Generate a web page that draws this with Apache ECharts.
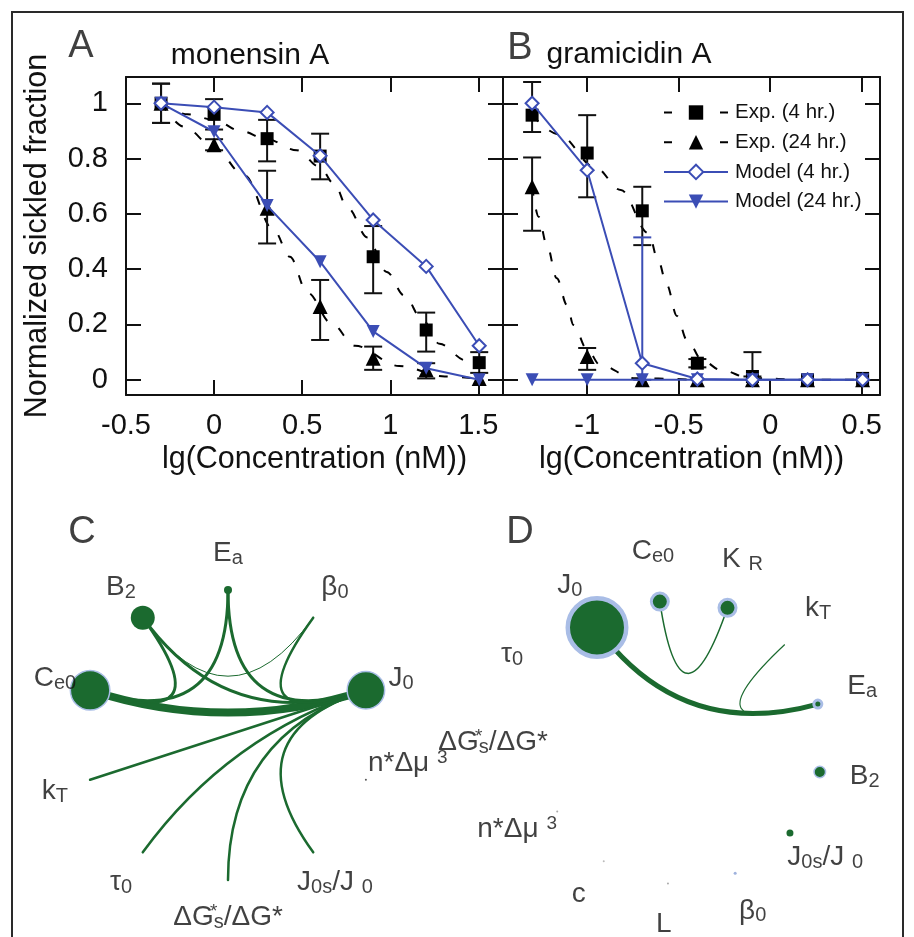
<!DOCTYPE html>
<html><head><meta charset="utf-8">
<script src="https://cdn.jsdelivr.net/npm/echarts@6/dist/echarts.min.js"></script>
<style>html,body{margin:0;padding:0;background:#fff}#c{width:914px;height:937px}</style>
</head><body><div id="c"></div>
<script>
// ================= DATA =================
// Panel A: monensin A  (x = lg concentration in nM)
const lgConcA   = [-0.301, 0, 0.301, 0.602, 0.903, 1.204, 1.505];
const exp4A     = [1.0, 0.96, 0.872, 0.809, 0.445, 0.18, 0.062];
const exp4A_lo  = [0.929, 0.905, 0.79, 0.725, 0.313, 0.102, 0.025];
const exp4A_hi  = [1.071, 1.015, 0.94, 0.89, 0.556, 0.243, 0.1];
const exp24A    = [1.0, 0.85, 0.62, 0.265, 0.078, 0.036, 0.005];
const exp24A_lo = [0.929, 0.83, 0.493, 0.144, 0.036, 0.005, 0.005];
const exp24A_hi = [1.071, 0.87, 0.756, 0.361, 0.12, 0.06, 0.005];
const model4A   = [1.0, 0.986, 0.967, 0.81, 0.578, 0.41, 0.123];
const model24A  = [1.0, 0.897, 0.63, 0.427, 0.175, 0.042, 0.0];
// dashed fitted curves
const fit4A_x   = [-0.30, -0.15, 0.0, 0.15, 0.30, 0.47, 0.60, 0.68, 0.76, 0.87, 0.98, 1.08, 1.18, 1.28, 1.43, 1.505];
const fit4A_y   = [1.0, 0.96, 0.94, 0.9, 0.87, 0.83, 0.77, 0.71, 0.62, 0.515, 0.39, 0.305, 0.22, 0.13, 0.07, 0.055];
const fit24A_x  = [-0.30, -0.17, 0.0, 0.17, 0.34, 0.43, 0.53, 0.665, 0.80, 1.05, 1.31, 1.505];
const fit24A_y  = [1.0, 0.915, 0.84, 0.74, 0.54, 0.445, 0.315, 0.205, 0.123, 0.05, 0.012, 0.004];

// Panel B: gramicidin A
const lgConcB   = [-1.301, -1.0, -0.699, -0.398, -0.097, 0.204, 0.505];
const exp4B     = [0.957, 0.82, 0.611, 0.06, 0.012, 0.0, 0.005];
const exp4B_lo  = [0.896, 0.66, 0.487, 0.045, 0.012, 0.0, 0.005];
const exp4B_hi  = [1.077, 0.957, 0.698, 0.075, 0.1, 0.0, 0.005];
const exp24B    = [0.698, 0.084, 0.0, 0.0, 0.0, 0.0, 0.0];
const exp24B_lo = [0.539, 0.036, 0, 0, 0, 0, 0];
const exp24B_hi = [0.804, 0.115, 0, 0, 0, 0, 0];
const model4B   = [1.0, 0.758, 0.06, 0.003, 0.0, 0.0, 0.0];
const model24B  = [0.0, 0.0, 0.0, 0.0, 0.0, 0.0, 0.0];
const model24B_lo = [0, 0, 0.0, 0, 0, 0, 0];
const model24B_hi = [0, 0, 0.515, 0, 0, 0, 0];
const fit4B_x   = [-1.301, -1.157, -0.956, -0.816, -0.665, -0.61, -0.565, -0.51, -0.455, -0.37, -0.273, -0.11, 0.2, 0.505];
const fit4B_y   = [0.957, 0.888, 0.768, 0.686, 0.53, 0.427, 0.343, 0.231, 0.144, 0.07, 0.036, 0.006, 0.0, 0.0];
const fit24B_x  = [-1.301, -1.266, -1.22, -1.166, -1.11, -1.075, -1.0, -0.93, -0.747, -0.4];
const fit24B_y  = [0.698, 0.59, 0.487, 0.367, 0.27, 0.198, 0.11, 0.054, 0.006, 0.0];

const xTicksA = [-0.5, 0, 0.5, 1, 1.5];
const xTicksB = [-1, -0.5, 0, 0.5];
const yTicks  = [0, 0.2, 0.4, 0.6, 0.8, 1];
const seriesNames = ['Exp. (4 hr.)', 'Exp. (24 hr.)', 'Model (4 hr.)', 'Model (24 hr.)'];

// Panel C network (nodes in circular order, clockwise from top)
const nodesC    = ['Ea', 'β0', 'J0', 'n*Δμ3', 'J0s/J0', 'ΔG*s/ΔG*', 'τ0', 'kT', 'Ce0', 'B2'];
const nodeSizeC = [4, 0, 18, 1, 0, 0, 0, 0, 19, 12];
const edgesC    = [['Ce0','J0',8], ['Ce0','B2',3], ['Ce0','Ea',3], ['B2','J0',3], ['Ea','J0',3],
                   ['β0','J0',2.5], ['β0','B2',1], ['J0','kT',2.5], ['J0','τ0',2.5],
                   ['J0','ΔG*s/ΔG*',2.5], ['J0','J0s/J0',2.5]];
// Panel D network (counter-clockwise from Ea)
const nodesD    = ['Ea', 'kT', 'KR', 'Ce0', 'J0', 'τ0', 'ΔG*s/ΔG*', 'n*Δμ3', 'c', 'L', 'β0', 'J0s/J0', 'B2'];
const nodeSizeD = [2.5, 0, 7, 7, 27, 0, 0, 1, 1, 1, 1.5, 3.5, 5];
const edgesD    = [['J0','Ea',5], ['Ce0','KR',1.5], ['kT','Ea',1.2]];

// ================= STYLE / LAYOUT =================
const FONT = "'Liberation Sans', Arial, Helvetica, sans-serif";
const BLUE = '#3b4db5', GREEN = '#1b6a2f', HALO = '#a9bde6', INK = '#111';
const layoutC = {cx: 228, cy: 735, r: 145, labelR: 182, lcy: 735, start: 90, dir: -1, labelAngle: {'n*Δμ3': -9}};
const layoutD = {cx: 681, cy: 742, r: 142, labelR: 188, lcy: 737, start: 15.5, dir: 1, labelAngle: {}};
const haloC = {Ce0: 1.5, J0: 1.5};
const haloD = {J0: 4.5, Ce0: 3, KR: 3, Ea: 3, B2: 1.5};
const nodeColC = {'n*Δμ3': '#555'};
const nodeColD = {'β0': '#9fb2dd', 'L': '#aaa', 'c': '#bbb', 'n*Δμ3': '#aaa'};

const LABEL_RICH = {
  'Ea': '{m|E}{s|a}', 'β0': '{m|β}{s|0}', 'J0': '{m|J}{s|0}', 'n*Δμ3': '{m|n*Δμ }{p|3}',
  'J0s/J0': '{m|J}{s|0s}{m|/J }{s|0}', 'ΔG*s/ΔG*': '{m|ΔG}{q|*}{s|s}{m|/ΔG*}',
  'τ0': '{m|τ}{s|0}', 'kT': '{m|k}{s|T}', 'Ce0': '{m|C}{s|e0}', 'B2': '{m|B}{s|2}',
  'KR': '{m|K }{s|R}', 'c': '{m|c}', 'L': '{m|L}'
};
const RICH = {
  m: {fontSize: 28, lineHeight: 30, fontFamily: FONT, color: INK, verticalAlign: 'middle'},
  s: {fontSize: 20, lineHeight: 20, fontFamily: FONT, color: INK, verticalAlign: 'bottom'},
  p: {fontSize: 19, lineHeight: 19, fontFamily: FONT, color: INK, verticalAlign: 'top'},
  q: {fontSize: 19, lineHeight: 19, fontFamily: FONT, color: INK, verticalAlign: 'top', width: 0.01}
};

function pairs(xs, ys) { return xs.map((x, i) => [x, ys[i]]); }
function errData(xs, lo, hi) { return xs.map((x, i) => [x, lo[i], hi[i]]).filter(d => d[2] - d[1] > 1e-6); }

function errRender(params, api) {
  const x = api.value(0), lo = api.value(1), hi = api.value(2);
  const p1 = api.coord([x, hi]), p2 = api.coord([x, lo]);
  const w = 9;
  const style = {stroke: api.visual('color'), lineWidth: 2};
  return {type: 'group', children: [
    {type: 'line', shape: {x1: p1[0], y1: p1[1], x2: p2[0], y2: p2[1]}, style},
    {type: 'line', shape: {x1: p1[0] - w, y1: p1[1], x2: p1[0] + w, y2: p1[1]}, style},
    {type: 'line', shape: {x1: p2[0] - w, y1: p2[1], x2: p2[0] + w, y2: p2[1]}, style}
  ]};
}

function panelSeries(g, xs, e4, e4lo, e4hi, e24, e24lo, e24hi, m4, m24, f4x, f4y, f24x, f24y) {
  const ax = {xAxisIndex: g * 2, yAxisIndex: g * 2};
  const dash = [9, 14];
  return [
    Object.assign({type: 'line', name: seriesNames[0], data: pairs(f4x, f4y), smooth: 0.35, smoothMonotone: 'x',
      symbol: 'rect', showSymbol: false, itemStyle: {color: '#000'}, lineStyle: {color: '#000', width: 2, type: dash}, z: 2}, ax),
    Object.assign({type: 'line', name: seriesNames[1], data: pairs(f24x, f24y), smooth: 0.35, smoothMonotone: 'x',
      symbol: 'triangle', showSymbol: false, itemStyle: {color: '#000'}, lineStyle: {color: '#000', width: 2, type: dash}, z: 2}, ax),
    Object.assign({type: 'custom', name: 'err4', data: errData(xs, e4lo, e4hi), renderItem: errRender,
      itemStyle: {color: INK}, encode: {x: 0, y: [1, 2]}, z: 3}, ax),
    Object.assign({type: 'custom', name: 'err24', data: errData(xs, e24lo, e24hi), renderItem: errRender,
      itemStyle: {color: INK}, encode: {x: 0, y: [1, 2]}, z: 3}, ax),
    Object.assign({type: 'scatter', name: 'pts4', data: pairs(xs, e4), symbol: 'rect', symbolSize: 13,
      itemStyle: {color: '#000', opacity: 1}, z: 4}, ax),
    Object.assign({type: 'scatter', name: 'pts24', data: pairs(xs, e24), symbol: 'triangle', symbolSize: 15,
      itemStyle: {color: '#000', opacity: 1}, z: 4}, ax),
    Object.assign({type: 'line', name: seriesNames[2], data: pairs(xs, m4), symbol: 'emptyDiamond', symbolSize: 13,
      itemStyle: {color: BLUE}, lineStyle: {color: BLUE, width: 2}, z: 6}, ax),
    Object.assign({type: 'line', name: seriesNames[3], data: pairs(xs, m24), symbol: 'triangle', symbolRotate: 180,
      symbolSize: 13, itemStyle: {color: BLUE}, lineStyle: {color: BLUE, width: 2}, z: 5}, ax)
  ];
}

function circPos(L, i, n, rad, cy, angOverride) {
  const deg = (angOverride !== undefined) ? angOverride : (L.start + L.dir * i * 360 / n);
  const a = deg * Math.PI / 180;
  return [L.cx + rad * Math.cos(a), (cy !== undefined ? cy : L.cy) - rad * Math.sin(a)];
}

function edgeSeries(nodes, edges, L) {
  const n = nodes.length;
  return {
    type: 'custom', xAxisIndex: 4, yAxisIndex: 4, silent: true, z: 1,
    data: edges.map(e => [nodes.indexOf(e[0]), nodes.indexOf(e[1]), e[2]]),
    encode: {x: 0, y: 1},
    renderItem: (params, api) => {
      const i = api.value(0), j = api.value(1), w = api.value(2);
      const p = api.coord(circPos(L, i, n, L.r));
      const q = api.coord(circPos(L, j, n, L.r));
      const c = api.coord([L.cx, L.cy]);
      return {type: 'bezierCurve',
        shape: {x1: p[0], y1: p[1], x2: q[0], y2: q[1], cpx1: c[0], cpy1: c[1]},
        style: {stroke: GREEN, lineWidth: w, fill: 'none', lineCap: 'round'}};
    }
  };
}

function nodeSeries(nodes, sizes, L, halo, colors) {
  const n = nodes.length, data = [];
  nodes.forEach((name, i) => {
    if (sizes[i] <= 0) return;
    const bw = halo[name] || 0;
    data.push({value: circPos(L, i, n, L.r), symbolSize: 2 * sizes[i] + bw,
      itemStyle: {color: colors[name] || GREEN, borderColor: HALO, borderWidth: bw, opacity: 1}});
  });
  return {type: 'scatter', xAxisIndex: 4, yAxisIndex: 4, symbol: 'circle', silent: true, z: 3,
    itemStyle: {opacity: 1}, data};
}

function labelSeries(nodes, L) {
  const n = nodes.length;
  return {
    type: 'scatter', xAxisIndex: 4, yAxisIndex: 4, symbol: 'circle', symbolSize: 1, silent: true, z: 4,
    itemStyle: {color: 'rgba(0,0,0,0)'},
    label: {show: true, position: 'inside', color: INK, formatter: p => LABEL_RICH[p.name], rich: RICH},
    data: nodes.map((name, i) => ({name, value: circPos(L, i, n, L.labelR, L.lcy, L.labelAngle[name])}))
  };
}

function valueAxis(grid, pos, min, max, ticks, labels, name, gap) {
  const ax = {
    type: 'value', gridIndex: grid, position: pos, min, max,
    axisLine: {show: true, onZero: false, lineStyle: {color: INK, width: 2}},
    axisTick: {show: true, inside: true, length: 15, lineStyle: {color: INK, width: 2}, customValues: ticks},
    axisLabel: labels ? {show: true, customValues: ticks, fontSize: 29, fontFamily: FONT, color: INK,
      margin: (pos === 'left' ? 18 : 16), formatter: v => String(v)} : {show: false},
    splitLine: {show: false}
  };
  if (name) Object.assign(ax, {name, nameLocation: 'middle', nameGap: gap,
    nameTextStyle: {fontSize: 30.5, fontFamily: FONT, color: INK}});
  return ax;
}

// ================= CHART =================
const chart = echarts.init(document.getElementById('c'), null, {renderer: 'canvas'});
const xName = 'lg(Concentration (nM))';
const option = {
  animation: false,
  backgroundColor: '#fff',
  grid: [
    {left: 126, top: 77, width: 377, height: 318},
    {left: 503, top: 77, width: 377, height: 318},
    {left: 0, top: 0, width: 914, height: 937}
  ],
  xAxis: [
    valueAxis(0, 'bottom', -0.5, 1.64, xTicksA, true, xName, 49),
    valueAxis(0, 'top', -0.5, 1.64, xTicksA, false),
    valueAxis(1, 'bottom', -1.46, 0.6, xTicksB, true, xName, 49),
    valueAxis(1, 'top', -1.46, 0.6, xTicksB, false),
    {type: 'value', gridIndex: 2, min: 0, max: 914, show: false}
  ],
  yAxis: [
    valueAxis(0, 'left', -0.055, 1.095, yTicks, true, 'Normalized sickled fraction', 73),
    valueAxis(0, 'right', -0.055, 1.095, yTicks, false),
    valueAxis(1, 'left', -0.055, 1.095, yTicks, false),
    valueAxis(1, 'right', -0.055, 1.095, yTicks, false),
    {type: 'value', gridIndex: 2, min: 0, max: 937, inverse: true, show: false}
  ],
  legend: {
    data: [
      {name: seriesNames[0], lineStyle: {type: [8, 48]}},
      {name: seriesNames[1], lineStyle: {type: [8, 48]}},
      {name: seriesNames[2]}, {name: seriesNames[3]}
    ],
    orient: 'vertical', left: 658, top: 97, itemWidth: 64, itemHeight: 18, itemGap: 8.7,
    selectedMode: false,
    textStyle: {fontSize: 20.5, fontFamily: FONT, color: INK, padding: [0, 0, 0, 2]}
  },
  graphic: [
    {type: 'rect', shape: {x: 12, y: 12, width: 891, height: 945}, style: {fill: 'none', stroke: '#2a2a2a', lineWidth: 2}, z: 100},
    {type: 'text', x: 81, y: 47, style: {text: 'A', font: '38px ' + FONT, fill: '#404040', align: 'center', verticalAlign: 'middle'}},
    {type: 'text', x: 520, y: 49, style: {text: 'B', font: '38px ' + FONT, fill: '#404040', align: 'center', verticalAlign: 'middle'}},
    {type: 'text', x: 82, y: 533, style: {text: 'C', font: '38px ' + FONT, fill: '#404040', align: 'center', verticalAlign: 'middle'}},
    {type: 'text', x: 520, y: 533, style: {text: 'D', font: '38px ' + FONT, fill: '#404040', align: 'center', verticalAlign: 'middle'}},
    {type: 'text', x: 250, y: 56, style: {text: 'monensin A', font: '30px ' + FONT, fill: INK, align: 'center', verticalAlign: 'middle'}},
    {type: 'text', x: 629, y: 55, style: {text: 'gramicidin A', font: '30px ' + FONT, fill: INK, align: 'center', verticalAlign: 'middle'}}
  ],
  series: [].concat(
    panelSeries(0, lgConcA, exp4A, exp4A_lo, exp4A_hi, exp24A, exp24A_lo, exp24A_hi, model4A, model24A,
      fit4A_x, fit4A_y, fit24A_x, fit24A_y),
    panelSeries(1, lgConcB, exp4B, exp4B_lo, exp4B_hi, exp24B, exp24B_lo, exp24B_hi, model4B, model24B,
      fit4B_x, fit4B_y, fit24B_x, fit24B_y),
    [{type: 'custom', name: 'errModelB', xAxisIndex: 2, yAxisIndex: 2, data: errData(lgConcB, model24B_lo, model24B_hi),
      renderItem: errRender, itemStyle: {color: BLUE}, encode: {x: 0, y: [1, 2]}, z: 5}],
    [edgeSeries(nodesC, edgesC, layoutC), nodeSeries(nodesC, nodeSizeC, layoutC, haloC, nodeColC), labelSeries(nodesC, layoutC),
     edgeSeries(nodesD, edgesD, layoutD), nodeSeries(nodesD, nodeSizeD, layoutD, haloD, nodeColD), labelSeries(nodesD, layoutD)]
  )
};
chart.setOption(option);
</script></body></html>
